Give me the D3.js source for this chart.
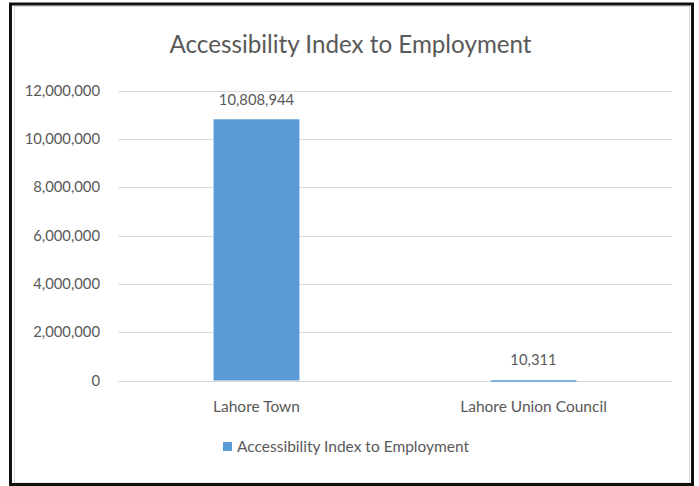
<!DOCTYPE html>
<html>
<head>
<meta charset="utf-8">
<script src="https://cdn.jsdelivr.net/npm/d3@7"></script>
<style>
  html, body { margin: 0; padding: 0; background: #fff; }
  svg { display: block; }
  text { font-family: Lato, "Open Sans", sans-serif; fill: #595959; }
</style>
</head>
<body>
<svg id="chart" width="699" height="486"></svg>
<script>
// Chart data
const chartTitle = "Accessibility Index to Employment";
const categories = ["Lahore Town", "Lahore Union Council"];
const seriesName = "Accessibility Index to Employment";
const seriesValues = [10808944, 10311];
const yTicks = [0, 2000000, 4000000, 6000000, 8000000, 10000000, 12000000];

const W = 699, H = 486;
const plot = { left: 118, right: 672, top: 90.5, bottom: 380.5 };
const barColor = "#5B9BD5";

const svg = d3.select("#chart");
const fmt = d3.format(",");

svg.append("rect").attr("x", 0).attr("y", 0).attr("width", W).attr("height", H).attr("fill", "#fff");

// thin inner frame of the chart area and heavy outer frame
svg.append("rect")
  .attr("x", 14.5).attr("y", 6.5).attr("width", 675).attr("height", 476.5)
  .attr("fill", "none").attr("stroke", "#d9d9d9").attr("stroke-width", 1);
svg.append("rect")
  .attr("x", 10.5).attr("y", 4).attr("width", 682).attr("height", 480.5)
  .attr("fill", "none").attr("stroke", "#111").attr("stroke-width", 3);

const x = d3.scaleBand().domain(categories).range([plot.left, plot.right]).paddingInner(0.69).paddingOuter(0.345);
const y = d3.scaleLinear().domain([0, 12000000]).range([plot.bottom, plot.top]);

// gridlines
svg.append("g")
  .selectAll("line")
  .data(yTicks)
  .join("line")
  .attr("x1", plot.left).attr("x2", plot.right)
  .attr("y1", d => Math.round(y(d)) + 0.5).attr("y2", d => Math.round(y(d)) + 0.5)
  .attr("stroke", "#d9d9d9").attr("stroke-width", 1);

// y axis labels
const yAxis = d3.axisLeft(y).tickValues(yTicks).tickFormat(fmt).tickSize(0).tickPadding(0);
const yg = svg.append("g").attr("transform", `translate(100,0)`).call(yAxis);
yg.select(".domain").remove();
yg.selectAll("text").attr("font-size", 14.8).attr("fill", "#595959").attr("font-family", "Lato, sans-serif");

// bars
svg.append("g")
  .selectAll("rect")
  .data(seriesValues)
  .join("rect")
  .attr("x", (d, i) => x(categories[i]))
  .attr("width", x.bandwidth())
  .attr("y", d => y(d))
  .attr("height", d => Math.max(plot.bottom - y(d), 1.5))
  .attr("fill", barColor);

// value labels above each bar
svg.append("g")
  .selectAll("text")
  .data(seriesValues)
  .join("text")
  .attr("x", (d, i) => x(categories[i]) + x.bandwidth() / 2)
  .attr("y", d => Math.min(y(d), plot.bottom - 1.5) - 14.5)
  .attr("text-anchor", "middle")
  .attr("font-size", 14.8)
  .text(d => fmt(d));

// category axis
const xAxis = d3.axisBottom(x).tickSize(0).tickPadding(0);
const xg = svg.append("g").attr("transform", `translate(0,${plot.bottom + 20})`).call(xAxis);
xg.select(".domain").remove();
xg.selectAll("text").attr("font-size", 15.5).attr("fill", "#595959").attr("font-family", "Lato, sans-serif");

// title
svg.append("text")
  .attr("x", 350.5).attr("y", 53)
  .attr("text-anchor", "middle")
  .attr("font-size", 24.2)
  .text(chartTitle);

// legend
const legend = svg.append("g").attr("transform", "translate(223,442)");
legend.append("rect").attr("width", 9).attr("height", 9).attr("fill", barColor);
legend.append("text").attr("x", 14).attr("y", 9.5).attr("font-size", 15.5).text(seriesName);
</script>
</body>
</html>
